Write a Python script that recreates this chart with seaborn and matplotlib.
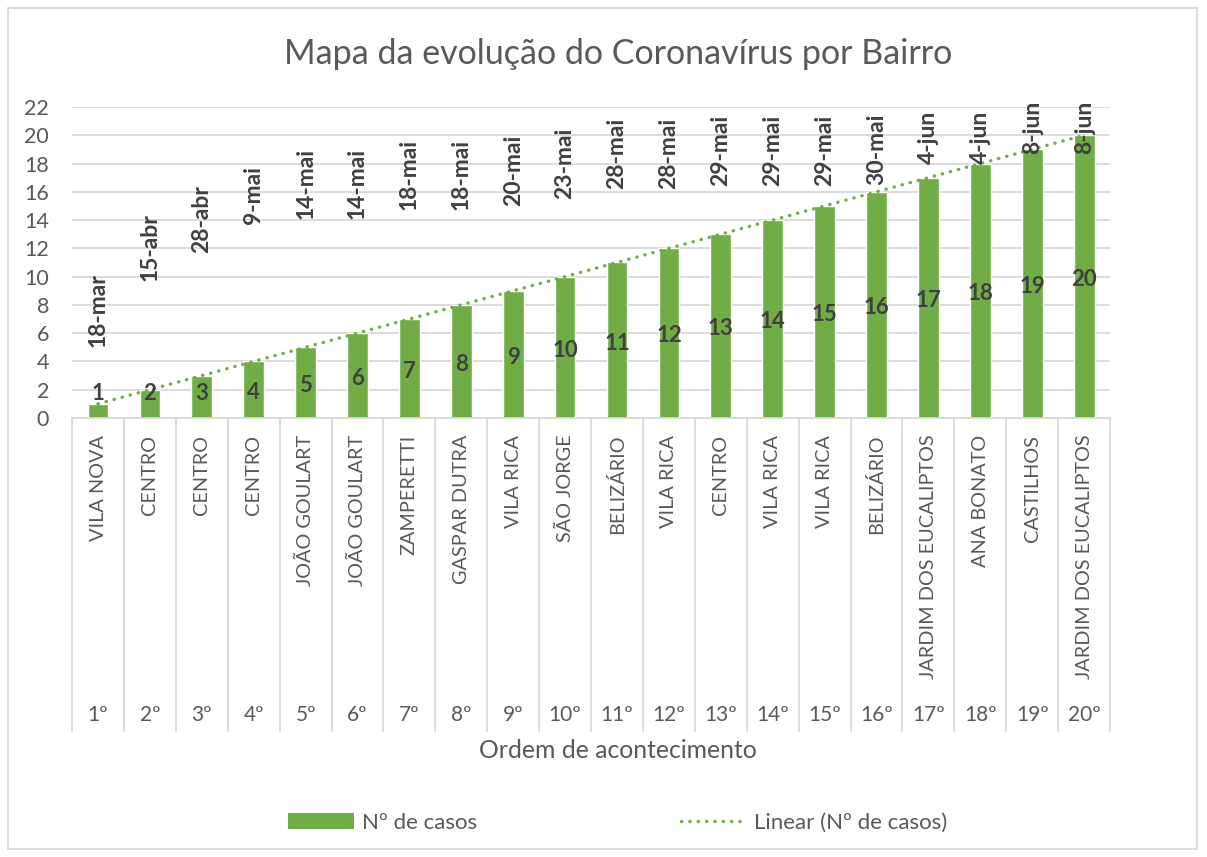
#%%
import pandas as pd
import numpy as np
import matplotlib
matplotlib.use('Agg')
import matplotlib.pyplot as plt
import matplotlib.transforms as mtransforms
from matplotlib.patches import Patch, Rectangle
from matplotlib.lines import Line2D
import seaborn as sns

#%% Dados
ordem = ['1º', '2º', '3º', '4º', '5º', '6º', '7º', '8º', '9º', '10º',
         '11º', '12º', '13º', '14º', '15º', '16º', '17º', '18º', '19º', '20º']
bairros = ['VILA NOVA', 'CENTRO', 'CENTRO', 'CENTRO', 'JOÃO GOULART',
           'JOÃO GOULART', 'ZAMPERETTI', 'GASPAR DUTRA', 'VILA RICA', 'SÃO JORGE',
           'BELIZÁRIO', 'VILA RICA', 'CENTRO', 'VILA RICA', 'VILA RICA',
           'BELIZÁRIO', 'JARDIM DOS EUCALIPTOS', 'ANA BONATO', 'CASTILHOS',
           'JARDIM DOS EUCALIPTOS']
datas = ['18-mar', '15-abr', '28-abr', '9-mai', '14-mai', '14-mai', '18-mai',
         '18-mai', '20-mai', '23-mai', '28-mai', '28-mai', '29-mai', '29-mai',
         '29-mai', '30-mai', '4-jun', '4-jun', '8-jun', '8-jun']
casos = [1, 2, 3, 4, 5, 6, 7, 8, 9, 10, 11, 12, 13, 14, 15, 16, 17, 18, 19, 20]

# altura (em unidades do eixo y) onde começa cada rótulo de data
pos_datas = [5.05, 9.67, 11.68, 13.7, 14.05, 14.05, 14.7, 14.7, 15.0, 15.5,
             16.2, 16.2, 16.4, 16.4, 16.4, 16.5, 17.96, 17.96, 18.67, 18.67]

df = pd.DataFrame({'ordem': ordem, 'bairro': bairros, 'data': datas, 'casos': casos})

#%% Estilo
sns.set_style('white')
plt.rcParams['font.family'] = ['Lato', 'DejaVu Sans']
verde = '#70AD47'
cinza_txt = '#595959'
cinza_lin = '#D9D9D9'
escuro = '#404040'

fig = plt.figure(figsize=(12.07, 8.57), dpi=100)
ax = fig.add_axes([0.0597, 0.5123, 0.8600, 0.3629])

sns.barplot(data=df, x='ordem', y='casos', color=verde, width=0.4,
            saturation=1, ax=ax, zorder=2)

# linha de tendência linear
x = np.arange(len(df))
coef = np.polyfit(x, df['casos'], 1)
ax.plot(x, np.polyval(coef, x), color=verde, lw=2.4, dashes=(0.1, 2.4),
        dash_capstyle='round', zorder=3)

# rótulos dos valores e das datas
for i, row in df.iterrows():
    ax.text(i, max(row['casos'] / 2 - 0.2, 1.75), str(row['casos']),
            ha='center', va='center', fontsize=16, fontweight='bold', color=escuro, zorder=4)
    ax.text(i, pos_datas[i], row['data'], rotation=90, ha='center', va='bottom',
            fontsize=16.5, fontweight='bold', color=escuro, zorder=4)

ax.set_xlim(-0.5, len(df) - 0.5)
ax.set_ylim(0, 22)
ax.set_yticks(np.arange(0, 23, 2))
ax.yaxis.grid(True, color=cinza_lin, lw=1.3)
ax.set_axisbelow(True)
for s in ['top', 'right', 'left']:
    ax.spines[s].set_visible(False)
ax.spines['bottom'].set_color(cinza_lin)
ax.spines['bottom'].set_linewidth(1.3)
ax.tick_params(axis='y', length=0, pad=16.5, labelsize=15.5, labelcolor=cinza_txt)

# eixo de categorias em dois níveis
ax.set_xticks(x)
ax.set_xticklabels(df['bairro'], rotation=90, va='top')
ax.tick_params(axis='x', length=0, pad=12, labelsize=14.3, labelcolor=cinza_txt)
ax.set_xlabel('')
ax.set_ylabel('')

trans = mtransforms.blended_transform_factory(ax.transData, ax.transAxes)
for i, o in enumerate(df['ordem']):
    ax.text(i, -0.955, o, transform=trans, ha='center', va='center',
            fontsize=15, color=cinza_txt)
for b in np.arange(-0.5, len(df), 1.0):
    ax.plot([b, b], [0, -1.005], transform=trans, color=cinza_lin, lw=1.3, clip_on=False)

fig.text(0.512, 0.1237, 'Ordem de acontecimento', ha='center', va='center',
         fontsize=17.8, color=cinza_txt)
fig.text(0.512, 0.937, 'Mapa da evolução do Coronavírus por Bairro', ha='center',
         va='center', fontsize=24.5, color=cinza_txt)

# legenda
handles = [Patch(facecolor=verde, edgecolor='none'),
           Line2D([0], [0], color=verde, lw=2.4, dashes=(0.1, 2.4), dash_capstyle='round')]
fig.legend(handles, ['Nº de casos', 'Linear (Nº de casos)'], loc='center',
           bbox_to_anchor=(0.512, 0.04), ncol=2, frameon=False, fontsize=16,
           handlelength=2.95, handletextpad=0.35, columnspacing=9.2, labelcolor=cinza_txt)

# moldura do gráfico
fig.patches.append(Rectangle((8 / 1207, 8 / 857), 1189 / 1207, 841 / 857,
                             transform=fig.transFigure, fill=False,
                             edgecolor=cinza_lin, lw=1.3))

fig.savefig('out.png', dpi=100)
